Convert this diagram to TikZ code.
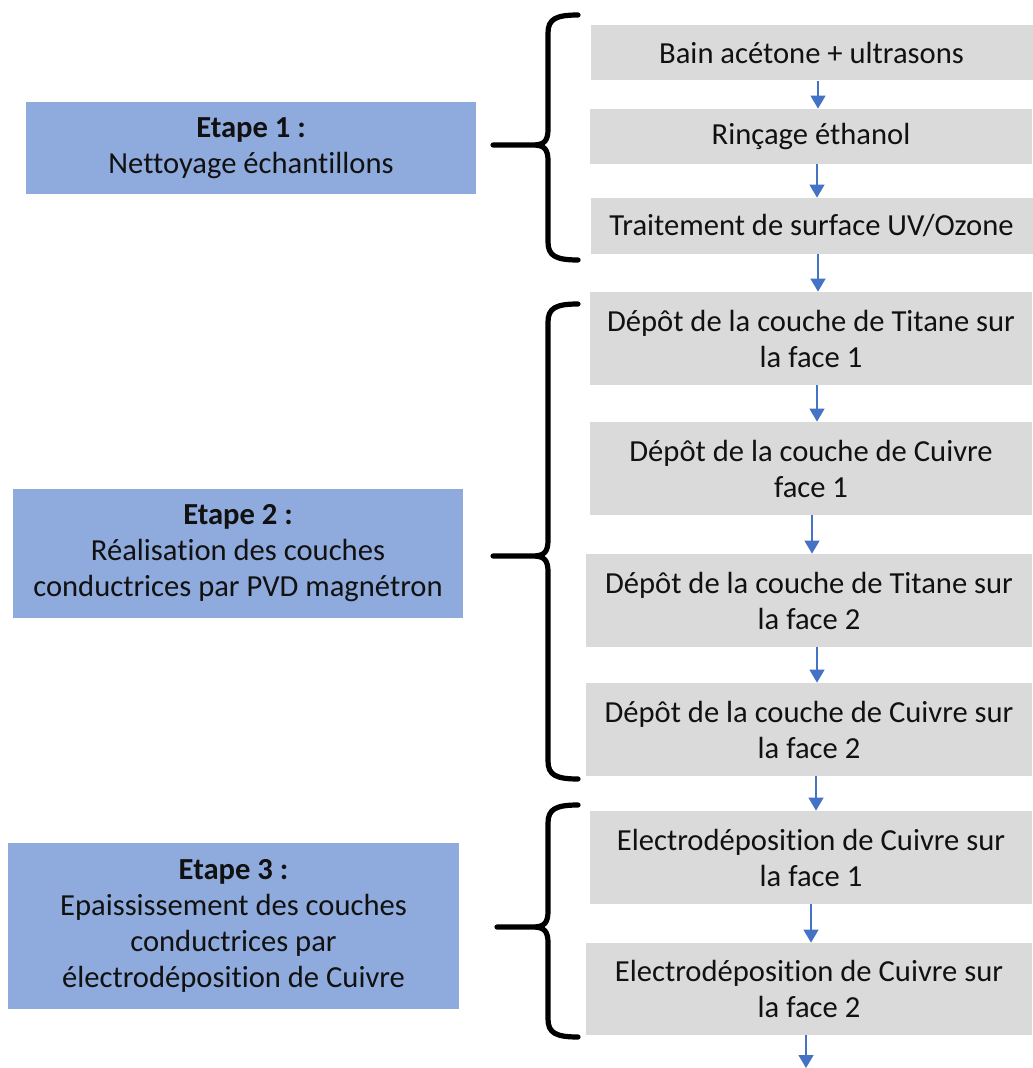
\documentclass[tikz,border=0pt]{standalone}
\usepackage{fontspec}
\setmainfont{Carlito}[Ligatures=NoCommon]
\usepackage{tikz}
\usetikzlibrary{arrows.meta,positioning,calc}
\definecolor{cEtape}{HTML}{8FAADC}
\definecolor{cTache}{HTML}{DADADA}
\definecolor{cFleche}{HTML}{4472C4}
\definecolor{cInk}{HTML}{111111}
\tikzset{
  >=Stealth,
  etape/.style ={rectangle,fill=cEtape,align=center,inner sep=0pt,
                 text=cInk,font=\fontsize{15.3}{18}\selectfont},
  tache/.style ={rectangle,fill=cTache,align=center,inner sep=0pt,
                 text=cInk,font=\fontsize{15.3}{18}\selectfont,
                 minimum width=221pt,minimum height=46.5pt},
  court/.style ={minimum height=27.5pt},
  fleche/.style={-{Triangle[width=7.5pt,length=6.5pt]},line width=0.75pt,cFleche},
  accol/.style ={line width=2.6pt,line cap=round,line join=round,black},
}
% accolade : haut, milieu, bas, pointe
\newcommand\accolade[4]{%
  \draw[accol] (578,#1) .. controls (556,#1) and (548,#1+4) .. (548,#1+18)
    -- (548,#2-16) .. controls (548,#2-5) and (545,#2) .. (533,#2) -- (#4,#2)
    -- (533,#2) .. controls (545,#2) and (548,#2+5) .. (548,#2+16)
    -- (548,#3-18) .. controls (548,#3-4) and (556,#3) .. (578,#3);}

\begin{document}
\begin{tikzpicture}[x=0.5pt,y=-0.5pt]
\useasboundingbox (0,0) rectangle (1032,1068);

% etapes
\node[etape,minimum width=225pt,minimum height=46pt] (e1) at (251,148)
  {\textbf{Etape 1 :}\\Nettoyage échantillons};
\node[etape,minimum width=225pt,minimum height=64.5pt] (e2) at (238,553.5)
  {\textbf{Etape 2 :}\\Réalisation des couches\\conductrices par PVD magnétron};
\node[etape,minimum width=225.5pt,minimum height=83pt] (e3) at (233.5,926)
  {\textbf{Etape 3 :}\\Epaississement des couches\\conductrices par\\électrodéposition de Cuivre};

% taches
\node[tache,court] (b1) at (811.5,53) {Bain acétone + ultrasons};
\node[tache,court] (b2) at (811,136.5) {Rinçage éthanol};
\node[tache,court,minimum height=28pt] (b3) at (811.5,226) {Traitement de surface UV/Ozone};
\node[tache] (b4) at (811,338.5) {Dépôt de la couche de Titane sur\\la face 1};
\node[tache] (b5) at (811,468.5) {Dépôt de la couche de Cuivre\\face 1};
\node[tache,minimum width=223pt] (b6) at (809,600.5) {Dépôt de la couche de Titane sur\\la face 2};
\node[tache,minimum width=223pt] (b7) at (809,729.5) {Dépôt de la couche de Cuivre sur\\la face 2};
\node[tache] (b8) at (811,857.5) {Electrodéposition de Cuivre sur\\la face 1};
\node[tache,minimum width=223pt,minimum height=46pt] (b9) at (809,989) {Electrodéposition de Cuivre sur\\la face 2};
\coordinate (fin) at (806,1068);

% fleches
\foreach \a/\b/\dx in {b1/b2/6.5,b2/b3/6,b3/b4/6.5,b4/b5/6,b5/b6/1,
                       b6/b7/8,b7/b8/7,b8/b9/0}
  \draw[fleche] ([xshift=\dx*0.5pt]\a.south) -- ([xshift=\dx*0.5pt]\a.south |- \b.north);
\draw[fleche] ([xshift=-1.5pt]b9.south) -- (fin);

% accolades
\accolade{15}{145}{260}{493}
\accolade{304}{556}{779}{493}
\accolade{805}{927}{1037}{497}
\end{tikzpicture}
\end{document}
